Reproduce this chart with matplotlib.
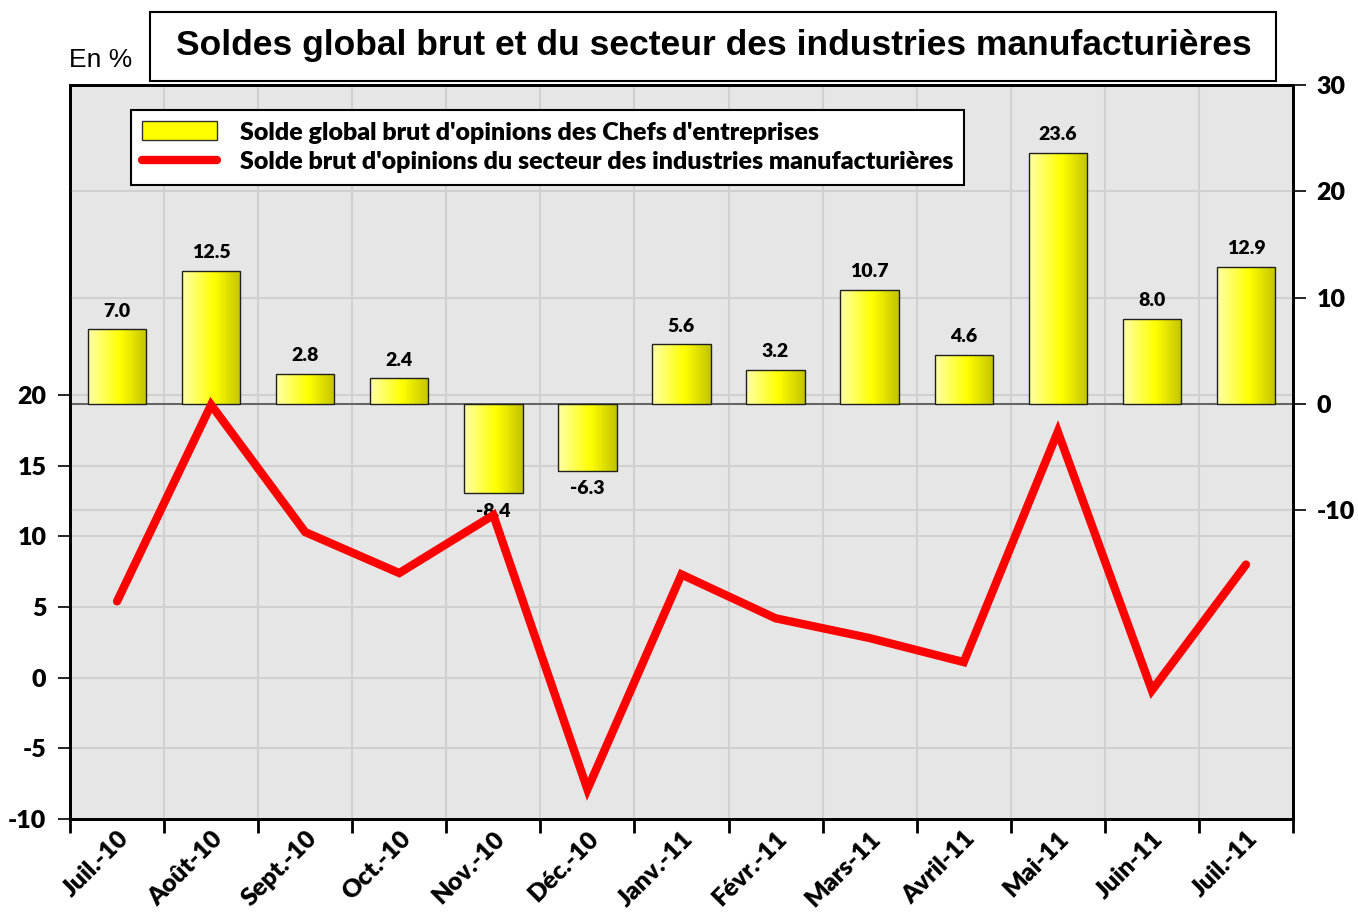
import matplotlib
matplotlib.use("Agg")
import matplotlib.pyplot as plt
import numpy as np
from matplotlib.patches import Rectangle, Patch
from matplotlib.colors import LinearSegmentedColormap
from matplotlib.lines import Line2D

# data
months = ["Juil.-10", "Août-10", "Sept.-10", "Oct.-10", "Nov.-10", "Déc.-10",
          "Janv.-11", "Févr.-11", "Mars-11", "Avril-11", "Mai-11", "Juin-11", "Juil.-11"]
solde_global = [7.0, 12.5, 2.8, 2.4, -8.4, -6.3, 5.6, 3.2, 10.7, 4.6, 23.6, 8.0, 12.9]
solde_manuf = [5.4, 19.3, 10.3, 7.4, 11.5, -7.9, 7.3, 4.2, 2.8, 1.1, 17.4, -0.9, 8.0]

left_ticks = [-10, -5, 0, 5, 10, 15, 20]
right_ticks = [-10, 0, 10, 20, 30]

title = "Soldes global brut et du secteur des industries manufacturières"
label_bars = "Solde global brut d'opinions des Chefs d'entreprises"
label_line = "Solde brut d'opinions du secteur des industries manufacturières"

plt.rcParams["font.family"] = ["Lato", "DejaVu Sans"]
plt.rcParams["font.weight"] = "heavy"
plt.rcParams["axes.unicode_minus"] = False
plt.rcParams["ytick.labelsize"] = 18
plt.rcParams["xtick.labelsize"] = 18

W, H = 1358, 921
fig = plt.figure(figsize=(W / 100, H / 100), dpi=100)
pos = [70 / W, 1 - 819 / H, (1293 - 70) / W, (819 - 85) / H]

grid_col = "#d0d0d0"

# bottom layer: background, left scale and its grid
ax = fig.add_axes(pos)
ax.set_facecolor("#e6e6e6")
x = np.arange(len(months))
ax.set_xlim(-0.5, len(months) - 0.5)
ax.set_ylim(-10, 41.93)
ax.set_yticks(left_ticks)
ax.tick_params(axis="y", direction="out", length=9, width=1.2, pad=8)
ax.set_xticks(np.arange(-0.5, len(months), 1.0))
ax.set_xticklabels([])
ax.set_xticks(x, minor=True)
ax.set_xticklabels(months, minor=True, rotation=45, ha="right", va="top",
                   rotation_mode="anchor")
ax.tick_params(axis="x", which="major", direction="out", length=10, width=2)
ax.tick_params(axis="x", which="minor", length=0, pad=6)
ax.grid(True, color=grid_col, lw=1.5)
ax.set_axisbelow(True)
for s in ax.spines.values():
    s.set_linewidth(2)

# middle layer: bars on the right scale
axb = ax.twinx()
axb.set_ylim(-39.08, 30)
axb.set_yticks(right_ticks)
axb.tick_params(axis="y", direction="out", length=9, width=1.2, pad=8)
axb.grid(True, axis="y", color=grid_col, lw=1.5)
axb.set_axisbelow(True)
axb.axhline(0, color="#505050", lw=1.2, zorder=1)
for s in axb.spines.values():
    s.set_linewidth(2)

grad = LinearSegmentedColormap.from_list(
    "bar", [(0, "#ffffa8"), (0.55, "#ffff00"), (1, "#c4c400")])
width = 0.62
bars = axb.bar(x, solde_global, width=width, color="none", edgecolor="#202020",
               lw=1.0, zorder=3)
for b, v in zip(bars, solde_global):
    x0 = b.get_x()
    img = axb.imshow(np.linspace(0, 1, 64).reshape(1, -1), cmap=grad, aspect="auto",
                     extent=[x0, x0 + width, 0, v], zorder=2, interpolation="bilinear")
    img.set_clip_path(b)
    off = 7 if v >= 0 else -7
    axb.annotate(f"{v:.1f}", (b.get_x() + width / 2, v), xytext=(0, off),
                 textcoords="offset points", ha="center",
                 va="bottom" if v >= 0 else "top", fontsize=14, zorder=4)
axb.set_xlim(-0.5, len(months) - 0.5)
axb.set_ylim(-39.08, 30)

# top layer: the line on the left scale
axl = fig.add_axes(pos, sharex=ax, sharey=ax)
axl.patch.set_visible(False)
axl.axis("off")
axl.plot(x, solde_manuf, color="#ff0000", lw=6, solid_joinstyle="miter",
         solid_capstyle="round", zorder=5)
ax.set_ylim(-10, 41.93)

handles = [Patch(facecolor="#ffff00", edgecolor="#303030", lw=1),
           Line2D([], [], color="#ff0000", lw=6, solid_capstyle="round")]
leg = axl.legend(handles, [label_bars, label_line], loc="upper left",
                 bbox_to_anchor=(131 / W, 1 - 110 / H), bbox_transform=fig.transFigure,
                 frameon=True, fancybox=False, edgecolor="black", framealpha=1,
                 prop={"weight": "heavy", "size": 18},
                 handlelength=3.0, handleheight=0.8, borderpad=0.45, labelspacing=0.3,
                 handletextpad=0.9, borderaxespad=0)
leg.get_frame().set_linewidth(1.5)

# title box
fig.patches.append(Rectangle((150 / W, 1 - 81 / H), (1276 - 150) / W, 69 / H,
                             transform=fig.transFigure, facecolor="white",
                             edgecolor="black", lw=1.5))
fig.text(714 / W, 1 - 46 / H, title, ha="center", va="center", fontsize=25.5,
         fontweight="bold", family="Liberation Sans")
fig.text(101 / W, 1 - 60 / H, "En %", ha="center", va="center", fontsize=19,
         fontweight="normal", family="Liberation Sans")

fig.savefig("out.png", dpi=100)
